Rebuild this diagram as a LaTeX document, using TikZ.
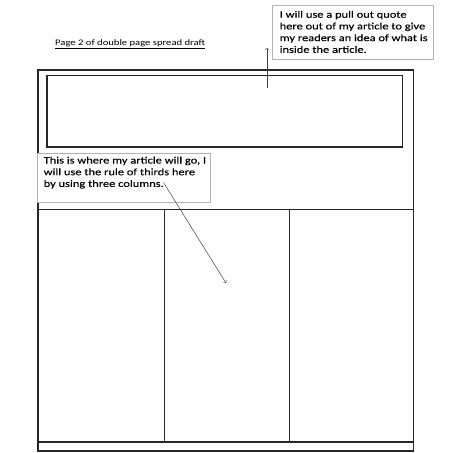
\documentclass[tikz,border=0pt]{standalone}
\usepackage{fontspec}
\setmainfont{Carlito}[FakeStretch=1.25]
\newfontfamily\notafont{Carlito}[FakeStretch=1.27, FakeBold=0.3]
\usepackage{tikz}

\begin{document}
\begin{tikzpicture}[x=1pt, y=-1pt,
  moldura/.style={draw=black!85, line width=1.3pt},
  caixa/.style={draw=black!30, line width=0.9pt},
  nota/.style={anchor=north west, align=left, inner sep=0pt, font=\notafont\fontsize{9.8}{11.7}\selectfont},
  seta/.style={->, black!75, line width=0.5pt}]
\useasboundingbox (0,0) rectangle (453,453);

% Titulo
\node[anchor=base west, inner sep=0pt, font=\fontsize{8.5}{10}\selectfont] (titulo) at (55,45) {\underline{Page 2 of double page spread draft}};

% Pagina
\draw[moldura] (38,70) rectangle (413.5,451);
\draw[moldura] (47,75.5) rectangle (402.5,147);
\draw[moldura] (38,209.5) -- (413.5,209.5);
\draw[moldura] (38,442) -- (413.5,442);
\draw[moldura] (164.5,209.5) -- (164.5,442);
\draw[moldura] (289.5,209.5) -- (289.5,442);

% Citacao
\draw[caixa, fill=white] (272.5,5.5) rectangle (433.5,59.5);
\node[nota] (citacao) at (279.5,10.7) {I will use a pull out quote\\here out of my article to give\\my readers an idea of what is\\inside the article.};
\coordinate (citacaoini) at (267,87.5);
\coordinate (citacaofim) at (267,48);
\draw[seta] (citacaoini) -- (citacaofim);

% Artigo
\draw[caixa, fill=white] (37.5,153.5) rectangle (210,202.7);
\node[nota] (artigo) at (43.5,156.5) {This is where my article will go, I\\will use the rule of thirds here\\by using three columns.};
\coordinate (artigoini) at (163.5,182.5);
\coordinate (artigofim) at (226,283);
\draw[seta] (artigoini) -- (artigofim);
\end{tikzpicture}
\end{document}
